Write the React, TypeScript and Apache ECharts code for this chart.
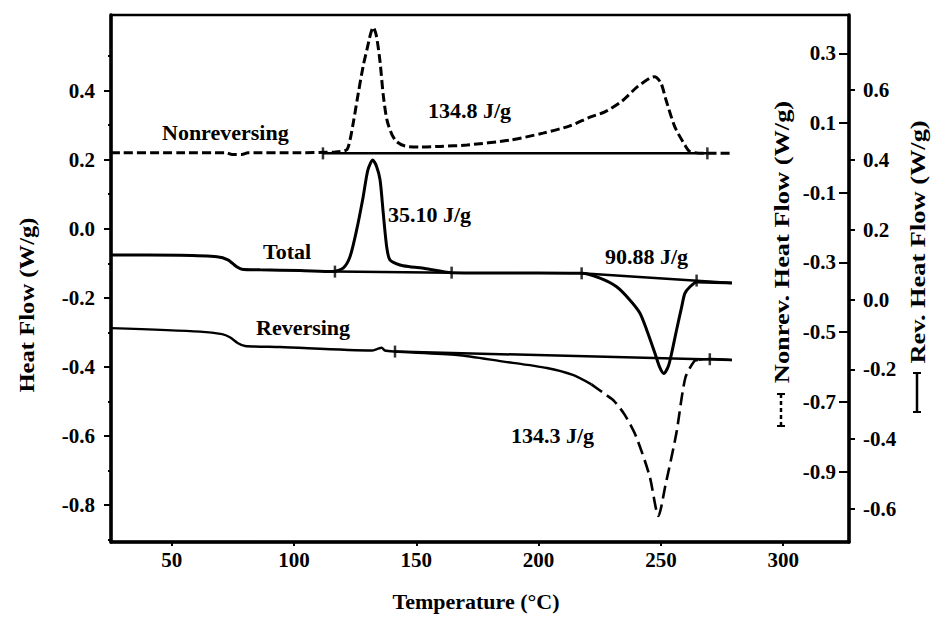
import React, { useEffect, useRef } from "react";
import * as echarts from "echarts";

// ---- axis ticks ----
const temperatureTicks = [50, 100, 150, 200, 250, 300];
const heatFlowTicks = [-0.8, -0.6, -0.4, -0.2, 0, 0.2, 0.4];
const heatFlowMinorTicks = [-0.9, -0.7, -0.5, -0.3, -0.1, 0.1, 0.3, 0.5];
const nonrevAxisTicks = [-0.9, -0.7, -0.5, -0.3, -0.1, 0.1, 0.3];
const revAxisTicks = [-0.6, -0.4, -0.2, 0, 0.2, 0.4, 0.6];

// ---- curves: [temperature °C, heat flow W/g] ----
const nonreversing: [number, number][] = [
  [25.2, 0.015], [53.4, 0.015], [72.2, 0.015], [74.7, 0.01], [78.7, 0.01], [81.2, 0.015],
  [102.4, 0.015], [116.8, 0.017], [121.5, 0.023], [122.9, 0.051], [124.3, 0.103], [126.3, 0.186],
  [128.3, 0.264], [129.8, 0.31], [131.3, 0.355], [132.4, 0.375], [133.7, 0.35], [135.2, 0.275],
  [136.5, 0.18], [138.0, 0.109], [140.1, 0.066], [142.1, 0.046], [145.4, 0.034], [151.5, 0.031],
  [159.7, 0.033], [170.7, 0.037], [188.3, 0.051], [201.8, 0.071], [212.8, 0.092], [221.0, 0.117],
  [227.1, 0.132], [234.1, 0.163], [240.2, 0.203], [245.5, 0.229], [247.4, 0.233], [250.0, 0.215],
  [252.1, 0.166], [255.7, 0.089], [259.8, 0.037], [261.9, 0.018], [269.0, 0.013], [279.4, 0.013],
];

const total: [number, number][] = [
  [25.2, -0.076], [53.4, -0.077], [68.5, -0.081], [73.0, -0.09], [76.6, -0.11], [78.7, -0.117],
  [86.1, -0.119], [102.4, -0.121], [115.9, -0.124], [120.1, -0.114], [122.9, -0.081], [125.6, -0.004],
  [128.3, 0.093], [130.2, 0.17], [132.2, 0.199], [133.7, 0.182], [135.2, 0.141], [136.5, 0.045],
  [137.9, -0.052], [139.2, -0.09], [143.3, -0.105], [147.4, -0.11], [153.5, -0.115], [164.5, -0.127],
  [192.4, -0.128], [217.6, -0.129], [225.1, -0.143], [231.9, -0.168], [237.3, -0.206], [241.4, -0.244],
  [244.2, -0.293], [247.6, -0.361], [249.4, -0.399], [251.2, -0.419], [253.0, -0.399], [254.4, -0.36],
  [256.4, -0.293], [258.5, -0.226], [259.8, -0.187], [261.9, -0.168], [264.6, -0.154], [279.0, -0.157],
];

const reversing: [number, number][] = [
  [25.2, -0.082], [61.6, -0.092], [70.6, -0.099], [73.8, -0.108], [77.1, -0.125], [80.0, -0.133],
  [94.3, -0.136], [131.9, -0.146], [133.9, -0.142], [135.8, -0.138], [137.2, -0.146], [141.3, -0.149],
  [166.8, -0.159], [185.0, -0.177], [203.4, -0.196], [214.0, -0.216], [221.6, -0.243], [227.8, -0.274],
  [230.8, -0.29], [235.3, -0.331], [239.9, -0.393], [245.4, -0.506], [249.0, -0.62], [251.8, -0.534],
  [256.3, -0.384], [260.0, -0.224], [263.7, -0.176], [265.5, -0.173], [270.0, -0.17], [279.0, -0.173],
];
const revDashFrom = 221.6;
const revDashTo = 265.5;

// ---- integration baselines and their limits ----
const nonrevBaseline: [number, number][] = [[111.85, 0.013], [269.0, 0.013]];
const totalBaselineA: [number, number][] = [[116.75, -0.124], [164.45, -0.127]];
const totalBaselineB: [number, number][] = [[217.6, -0.129], [279.0, -0.157]];
const revBaseline: [number, number][] = [[141.3, -0.149], [279.0, -0.173]];
const nonrevLimits: [number, number][] = [[111.85, 0.013], [269.0, 0.013]];
const totalLimits: [number, number][] = [[116.75, -0.124], [164.45, -0.127], [217.6, -0.129], [264.6, -0.15]];
const revLimits: [number, number][] = [[141.3, -0.149], [270.0, -0.171]];

// ---- texts ----
const annotations = [
  { text: "Nonreversing", x: 162, y: 132 },
  { text: "134.8 J/g", x: 428, y: 110 },
  { text: "35.10 J/g", x: 388, y: 214 },
  { text: "Total", x: 263, y: 251 },
  { text: "90.88 J/g", x: 605, y: 256 },
  { text: "Reversing", x: 256, y: 327 },
  { text: "134.3 J/g", x: 511, y: 435 },
];

const FONT = '"Liberation Serif", "Times New Roman", serif';

export default function App() {
  const ref = useRef<HTMLDivElement>(null);
  useEffect(() => {
    if (!ref.current) return;
    const chart = echarts.init(ref.current, null, { renderer: "svg" });
    const labelStyle = { color: "#000", fontFamily: FONT, fontSize: 21, fontWeight: "bold" as const };
    const black = "#000";
    const fmt = (v: number) => v.toFixed(1);
    const line = (data: [number, number][], yAxisIndex: number, width: number, type: any = "solid") => ({
      type: "line",
      data,
      yAxisIndex,
      showSymbol: false,
      symbol: "none",
      smooth: 0.25,
      lineStyle: { color: black, width, type, cap: "butt" },
      z: 3,
    });
    const limits = (data: [number, number][], yAxisIndex: number) => ({
      type: "scatter",
      data,
      yAxisIndex,
      symbol: "rect",
      symbolSize: [2.5, 12],
      itemStyle: { color: black },
      z: 4,
    });
    const revSolidA = reversing.filter((p) => p[0] <= revDashFrom);
    const revDashed = reversing.filter((p) => p[0] >= revDashFrom && p[0] <= revDashTo);
    const revSolidB = reversing.filter((p) => p[0] >= revDashTo);

    const sideText = (text: string, x: number, y: number, scale: number) => ({
      type: "text",
      x,
      y,
      rotation: Math.PI / 2,
      scaleX: scale,
      style: {
        text,
        font: `bold 22px ${FONT}`,
        fill: black,
        align: "center",
        verticalAlign: "middle",
        textAlign: "center",
        textVerticalAlign: "middle",
      },
    });
    const indicator = (x: number, y1: number, y2: number, dash: any) => ({
      type: "group",
      children: [
        { type: "line", shape: { x1: x, y1, x2: x, y2 }, style: { stroke: black, lineWidth: 2.5, lineDash: dash } },
        { type: "line", shape: { x1: x - 4, y1, x2: x + 4, y2: y1 }, style: { stroke: black, lineWidth: 2 } },
        { type: "line", shape: { x1: x - 4, y1: y2, x2: x + 4, y2 }, style: { stroke: black, lineWidth: 2 } },
      ],
    });

    const option: any = {
      animation: false,
      backgroundColor: "#fff",
      grid: {
        left: 111,
        right: 85,
        top: 15,
        bottom: 76,
        show: true,
        borderColor: black,
        borderWidth: 2.5,
        containLabel: false,
        outerBoundsMode: "none",
      },
      xAxis: {
        type: "value",
        min: 25.2,
        max: 326.9,
        axisLine: { onZero: false, lineStyle: { color: black, width: 3.5 } },
        axisTick: { customValues: temperatureTicks, length: 4, lineStyle: { color: black, width: 2 } },
        axisLabel: { ...labelStyle, customValues: temperatureTicks, margin: 7, formatter: (v: number) => String(v) },
        splitLine: { show: false },
      },
      yAxis: [
        {
          type: "value",
          position: "left",
          min: -0.907,
          max: 0.619,
          axisLine: { show: true, onZero: false, lineStyle: { color: black, width: 3.5 } },
          axisTick: { show: true, customValues: heatFlowTicks, length: 7, lineStyle: { color: black, width: 2 } },
          axisLabel: { ...labelStyle, customValues: heatFlowTicks, margin: 16, formatter: fmt },
          splitLine: { show: false },
        },
        {
          type: "value",
          position: "right",
          min: -1.102,
          max: 0.41,
          axisLine: { show: true, onZero: false, lineStyle: { color: black, width: 3.5 } },
          axisTick: { show: true, inside: true, customValues: nonrevAxisTicks, length: 10, lineStyle: { color: black, width: 2 } },
          axisLabel: { ...labelStyle, inside: true, customValues: nonrevAxisTicks, margin: 13, formatter: fmt },
          splitLine: { show: false },
        },
        {
          type: "value",
          position: "right",
          offset: 0,
          min: -0.6945,
          max: 0.815,
          axisLine: { show: false, onZero: false },
          axisTick: { show: true, customValues: revAxisTicks, length: 6, lineStyle: { color: black, width: 2 } },
          axisLabel: { ...labelStyle, customValues: revAxisTicks, margin: 14, formatter: fmt },
          splitLine: { show: false },
        },
        {
          type: "value",
          position: "left",
          min: -0.907,
          max: 0.619,
          axisLine: { show: false, onZero: false },
          axisTick: { show: true, customValues: heatFlowMinorTicks, length: 3, lineStyle: { color: black, width: 2 } },
          axisLabel: { show: false },
          splitLine: { show: false },
        },
      ],
      series: [
        line(nonreversing, 1, 3, [9, 4]),
        line(nonrevBaseline, 1, 2.5),
        limits(nonrevLimits, 1),
        line(total, 0, 3),
        line(totalBaselineA, 0, 2.5),
        line(totalBaselineB, 0, 2.5),
        limits(totalLimits, 0),
        line(revSolidA, 2, 2.4),
        line(revDashed, 2, 2.6, [13, 6]),
        line(revSolidB, 2, 2.4),
        line(revBaseline, 2, 2.5),
        limits(revLimits, 2),
      ],
      graphic: [
        ...annotations.map((a) => ({
          type: "text",
          x: a.x,
          y: a.y,
          style: {
            text: a.text,
            font: `bold 22px ${FONT}`,
            fill: black,
            align: "left",
            verticalAlign: "middle",
            textAlign: "left",
            textVerticalAlign: "middle",
          },
        })),
        sideText("Heat Flow (W/g)", 26, 305, 1.12),
        {
          type: "text",
          x: 476,
          y: 601,
          style: {
            text: "Temperature (°C)",
            font: `bold 22px ${FONT}`,
            fill: black,
            align: "center",
            verticalAlign: "middle",
            textAlign: "center",
            textVerticalAlign: "middle",
          },
        },
        sideText("Nonrev. Heat Flow (W/g)", 781, 242, 1.2),
        indicator(781, 394, 426, [4, 3]),
        sideText("Rev. Heat Flow (W/g)", 917, 242, 1.2),
        indicator(917, 373, 412, null),
      ],
    };
    chart.setOption(option);
    return () => chart.dispose();
  }, []);
  return (
    <div
      ref={ref}
      style={{ position: "absolute", left: 0, top: 0, width: 934, height: 618, background: "#fff" }}
    />
  );
}
